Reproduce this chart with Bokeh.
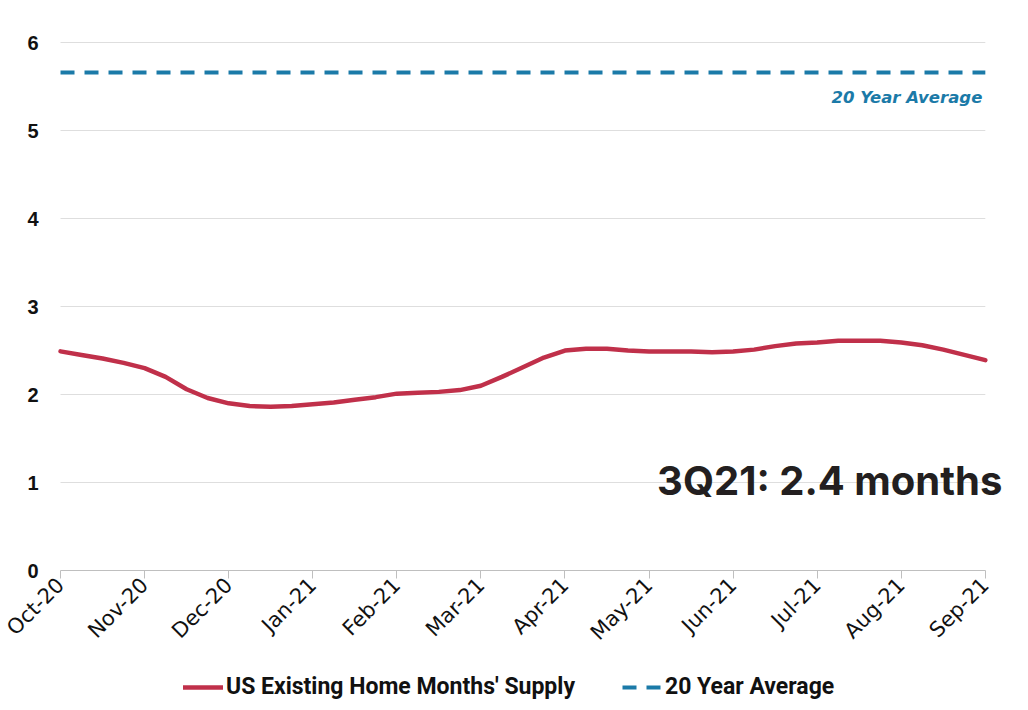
import math
from bokeh.plotting import figure
from bokeh.models import Range1d, FixedTicker, Label, Legend, LegendItem
from bokeh.embed import file_html
from bokeh.resources import INLINE

# ---- data ----
month_labels = ["Oct-20", "Nov-20", "Dec-20", "Jan-21", "Feb-21", "Mar-21",
                "Apr-21", "May-21", "Jun-21", "Jul-21", "Aug-21", "Sep-21"]
# quarter-month positions (0 = Oct-20, 11 = Sep-21)
x_pos = [0, 0.25, 0.5, 0.75, 1, 1.25, 1.5, 1.75, 2, 2.25, 2.5, 2.75,
         3, 3.25, 3.5, 3.75, 4, 4.25, 4.5, 4.75, 5, 5.25, 5.5, 5.75,
         6, 6.25, 6.5, 6.75, 7, 7.25, 7.5, 7.75, 8, 8.25, 8.5, 8.75,
         9, 9.25, 9.5, 9.75, 10, 10.25, 10.5, 10.75, 11]
supply = [2.49, 2.45, 2.41, 2.36, 2.30, 2.20, 2.06, 1.96, 1.90, 1.87, 1.86, 1.87,
          1.89, 1.91, 1.94, 1.97, 2.01, 2.02, 2.03, 2.05, 2.10, 2.20, 2.31, 2.42,
          2.50, 2.52, 2.52, 2.50, 2.49, 2.49, 2.49, 2.48, 2.49, 2.51, 2.55, 2.58,
          2.59, 2.61, 2.61, 2.61, 2.59, 2.56, 2.51, 2.45, 2.39]
avg_x = [0, 11]
avg_value = 5.66
y_ticks = [0, 1, 2, 3, 4, 5, 6]
grid_values = [1, 2, 3, 4, 5, 6]

RED = "#c0304a"
BLUE = "#1b7aa8"

# frame extends around the data span to host axis labels, legend and annotation
p = figure(width=1020, height=705, output_backend="svg", toolbar_location=None,
           x_range=Range1d(-0.69, 11.24), y_range=Range1d(-1.477, 6.25),
           min_border_left=2, min_border_right=15, min_border_top=20, min_border_bottom=5)
p.outline_line_color = None
p.background_fill_color = "white"
p.border_fill_color = "white"

# horizontal grid lines limited to the data span
p.segment(x0=[avg_x[0]] * len(grid_values), x1=[avg_x[1]] * len(grid_values),
          y0=grid_values, y1=grid_values, line_color="#dedede", line_width=1)

r_supply = p.line(x_pos, supply, line_color=RED, line_width=4.5, line_cap="round", line_join="round")
r_avg = p.line(avg_x, [avg_value, avg_value], line_color=BLUE, line_width=4, line_dash="14 10")

# axes
p.xaxis.fixed_location = 0
p.xaxis.bounds = (0, 11)
p.xaxis.ticker = FixedTicker(ticks=list(range(len(month_labels))))
p.xaxis.major_label_overrides = {i: lab for i, lab in enumerate(month_labels)}
p.xaxis.major_label_orientation = math.pi / 4
p.xaxis.major_label_text_font = "DejaVu Sans"
p.xaxis.major_label_text_font_size = "21px"
p.xaxis.major_label_text_color = "#111111"
p.xaxis.axis_line_color = "#bfbfbf"
p.xaxis.major_tick_line_color = "#bfbfbf"
p.xaxis.major_tick_out = 8
p.xaxis.major_tick_in = 0
p.xaxis.minor_tick_line_color = None
p.xaxis.major_label_standoff = 3

p.yaxis.fixed_location = 0
p.yaxis.ticker = FixedTicker(ticks=y_ticks)
p.yaxis.axis_line_color = None
p.yaxis.major_tick_line_color = None
p.yaxis.minor_tick_line_color = None
p.yaxis.major_label_text_font = "Liberation Sans"
p.yaxis.major_label_text_font_style = "bold"
p.yaxis.major_label_text_font_size = "20px"
p.yaxis.major_label_text_color = "#111111"
p.yaxis.major_label_standoff = 16

p.xgrid.grid_line_color = None
p.ygrid.grid_line_color = None

# annotations
p.add_layout(Label(x=11, y=avg_value, text="20 Year Average", text_align="right",
                   text_baseline="alphabetic", x_offset=-3, y_offset=-25,
                   text_font="DejaVu Sans", text_font_style="bold italic", text_font_size="16.5px",
                   text_color=BLUE))
p.add_layout(Label(x=11, y=1, text="3Q21: 2.4 months", text_align="right",
                   text_baseline="alphabetic", x_offset=17, y_offset=2,
                   text_font="Inter", text_font_style="bold", text_font_size="40px",
                   text_color="#231f20"))

legend = Legend(items=[LegendItem(label="US Existing Home Months' Supply", renderers=[r_supply]),
                       LegendItem(label="20 Year Average", renderers=[r_avg])],
                orientation="horizontal", location=(181, 0),
                label_text_font="Roboto", label_text_font_style="bold",
                label_text_font_size="23px", label_text_color="#111111",
                glyph_width=40, glyph_height=20, label_standoff=3, spacing=47,
                padding=0, margin=0, border_line_color=None, background_fill_alpha=0)
p.add_layout(legend, "center")

open("out.html", "w").write(file_html(p, INLINE))
